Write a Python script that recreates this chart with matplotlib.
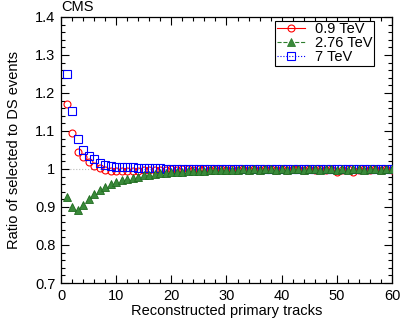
import matplotlib
matplotlib.use("Agg")
import matplotlib.pyplot as plt
from matplotlib.lines import Line2D
from matplotlib.ticker import MultipleLocator, FixedLocator

plt.rcParams['font.family'] = ['Liberation Sans', 'DejaVu Sans']

# Reconstructed primary tracks (1..60)
tracks = list(range(1, 61))

# Ratio of selected to DS events, per energy
ratio_09 = [1.172, 1.094, 1.046, 1.031, 1.019, 1.009, 1.003, 0.997, 0.996, 0.995,
            0.995, 0.995, 0.996, 0.996, 0.997, 0.997, 0.998, 0.998, 0.998, 0.999,
            0.998, 0.999, 0.999, 0.998, 0.999, 0.999, 0.998, 0.999, 0.999, 0.998,
            0.999, 0.998, 0.999, 0.998, 0.999, 0.998, 0.999, 0.999, 0.998, 0.999,
            0.998, 0.999, 0.999, 0.998, 0.999, 0.998, 0.999, 0.998, 0.999, 0.993,
            0.998, 0.999, 0.993, 0.998, 0.999, 0.998, 0.999, 0.998, 0.999, 0.998]
ratio_276 = [0.927, 0.900, 0.893, 0.905, 0.920, 0.933, 0.944, 0.953, 0.960, 0.966,
             0.970, 0.974, 0.977, 0.980, 0.983, 0.985, 0.987, 0.989, 0.990, 0.991,
             0.992, 0.993, 0.994, 0.995, 0.996, 0.996, 0.997, 0.997, 0.998, 0.998,
             0.998, 0.998, 0.999, 0.998, 0.999, 0.998, 0.999, 0.999, 0.998, 0.999,
             0.998, 0.999, 0.999, 0.998, 0.999, 0.999, 0.998, 0.999, 0.999, 0.998,
             0.999, 0.998, 0.999, 0.999, 0.998, 0.999, 0.999, 0.998, 0.999, 0.999]
ratio_7 = [1.250, 1.153, 1.080, 1.050, 1.035, 1.025, 1.017, 1.010, 1.007, 1.005,
           1.005, 1.004, 1.004, 1.003, 1.003, 1.002, 1.002, 1.002, 1.001, 1.001,
           1.001, 1.000, 1.001, 1.000, 1.001, 1.000, 1.000, 1.001, 1.000, 1.000,
           1.001, 1.000, 1.000, 1.001, 1.000, 1.000, 1.001, 1.000, 1.000, 1.001,
           1.000, 1.000, 1.001, 1.000, 1.000, 1.001, 1.000, 1.000, 1.001, 1.000,
           1.000, 1.001, 1.000, 1.000, 1.001, 1.000, 1.000, 1.001, 1.000, 1.000]

labels = ['0.9 TeV', '2.76 TeV', '7 TeV']

fig = plt.figure(figsize=(4.07, 3.26), dpi=100)
ax = fig.add_axes([0.1499, 0.1319, 0.8132, 0.816])

ax.axhline(1.0, color='#bbbbbb', linestyle=':', linewidth=0.8, zorder=1)

ax.plot(tracks, ratio_09, linestyle='none', marker='o', ms=5,
        mfc='none', mec='red', mew=0.8, zorder=3)
ax.plot(tracks, ratio_7, linestyle='none', marker='s', ms=5.2,
        mfc='none', mec='blue', mew=0.8, zorder=4)
ax.plot(tracks, ratio_276, linestyle='none', marker='^', ms=5.2,
        mfc='#3a8a3a', mec='#1f6b1f', mew=0.6, zorder=5)

ax.set_xlim(0, 60)
ax.set_ylim(0.7, 1.4)
ax.xaxis.set_major_locator(MultipleLocator(10))
ax.xaxis.set_minor_locator(MultipleLocator(2))
ax.yaxis.set_major_locator(FixedLocator([0.7, 0.8, 0.9, 1.0, 1.1, 1.2, 1.3, 1.4]))
ax.yaxis.set_minor_locator(MultipleLocator(0.02))
ax.set_yticklabels(['0.7', '0.8', '0.9', '1', '1.1', '1.2', '1.3', '1.4'])

ax.tick_params(which='both', direction='in', top=True, right=True,
               labelsize=10.5, width=0.8)
ax.tick_params(which='major', length=6, pad=4)
ax.tick_params(which='minor', length=3)
for s in ax.spines.values():
    s.set_linewidth(0.9)

ax.set_xlabel('Reconstructed primary tracks', fontsize=10.5, labelpad=1)
ax.set_ylabel('Ratio of selected to DS events', fontsize=10.5, labelpad=10)

ax.text(0.0, 1.01, 'CMS', transform=ax.transAxes, fontsize=10.5,
        ha='left', va='bottom')

# legend in ROOT style: line style + marker per entry
handles = [
    Line2D([], [], color='red', linestyle='-', marker='o', ms=5, mfc='none', mew=0.8, lw=0.8),
    Line2D([], [], color='#2e7d2e', linestyle='--', marker='^', ms=5.2, mfc='#3a8a3a', mew=0.6, lw=0.8),
    Line2D([], [], color='blue', linestyle=':', marker='s', ms=5.2, mfc='none', mew=0.8, lw=0.8),
]
leg = ax.legend(handles, labels, loc='upper right', bbox_to_anchor=(0.945, 0.985),
                fontsize=10.5, frameon=True, fancybox=False, framealpha=1,
                edgecolor='black', handlelength=1.9, borderpad=0.1,
                labelspacing=0.0, handletextpad=0.7, borderaxespad=0)
leg.get_frame().set_linewidth(0.8)

plt.savefig('out.png', dpi=100)
